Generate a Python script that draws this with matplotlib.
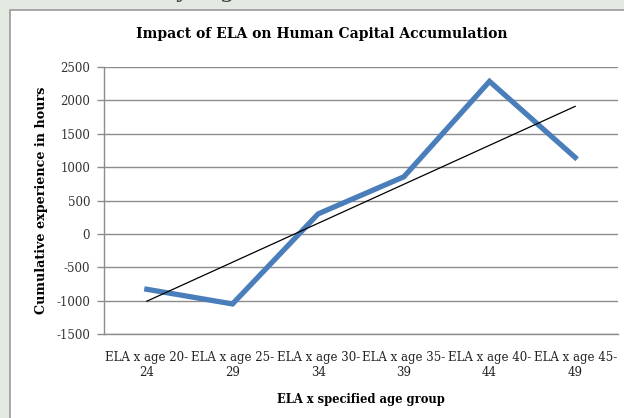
import matplotlib.pyplot as plt
import numpy as np

groups = ["ELA x age 20-\n24", "ELA x age 25-\n29", "ELA x age 30-\n34",
          "ELA x age 35-\n39", "ELA x age 40-\n44", "ELA x age 45-\n49"]
hours = [-830, -1050, 300, 855, 2285, 1145]
yticks = [-1500, -1000, -500, 0, 500, 1000, 1500, 2000, 2500]

serif = ["Liberation Serif", "DejaVu Serif"]
wide = ["DejaVu Serif"]
plt.rcParams['font.family'] = serif

fig = plt.figure(figsize=(6.24, 4.18), dpi=100)
fig.patch.set_facecolor("#e3e8e1")

# white chart box with grey border
box = plt.Rectangle((10 / 624, -0.1), 1.0, 1.1 - 10 / 418, transform=fig.transFigure,
                    facecolor="white", edgecolor="#9a9a9a", linewidth=1.2, zorder=-5)
fig.patches.append(box)

# descenders of slide text cut off at the top
for px, ch in [(156, ","), (178, "y"), (222, "g")]:
    fig.text(px / 624, 1.0 + 4 / 418, ch, fontsize=20, style="italic", color="#444444",
             va="baseline", ha="left", family=serif, zorder=-4)

ax = fig.add_axes([104 / 624, 1 - 334 / 418, 514 / 624, 267 / 418])
ax.set_zorder(2)
ax.patch.set_alpha(0)
x = np.arange(len(hours))
ax.plot(x, hours, color="#4a7ebb", linewidth=3.8, solid_joinstyle="miter", zorder=3)

# linear trend line
k, b = np.polyfit(x, hours, 1)
ax.plot(x, k * x + b, color="black", linewidth=0.9, zorder=4)

ax.set_xlim(-0.5, len(hours) - 0.5)
ax.set_ylim(-1500, 2500)
ax.set_yticks(yticks)
ax.set_yticklabels([str(v) for v in yticks], fontsize=8.5, color="#333333", family=wide)
ax.set_xticks(x)
ax.set_xticklabels(groups, fontsize=8.5, linespacing=1.25, family=wide, color="#222222")
ax.tick_params(axis="x", length=0, pad=12)
ax.tick_params(axis="y", length=5, width=1, color="#8c8c8c", pad=5)
ax.yaxis.grid(True, color="#8c8c8c", linewidth=1)
ax.set_axisbelow(True)
for s in ["top", "right"]:
    ax.spines[s].set_visible(False)
for s in ["left", "bottom"]:
    ax.spines[s].set_color("#8c8c8c")
    ax.spines[s].set_linewidth(1)

fig.text(322 / 624, 1 - 34 / 418, "Impact of ELA on Human Capital Accumulation",
         fontsize=10, fontweight="bold", ha="center", va="center", family=wide)
ax.set_xlabel("ELA x specified age group", fontsize=8.3, fontweight="bold", labelpad=10,
              family=wide)
ax.set_ylabel("Cumulative experience in hours", fontsize=9.2, fontweight="bold",
              labelpad=6, family=wide)

fig.savefig("out.png", dpi=100, facecolor=fig.get_facecolor())
